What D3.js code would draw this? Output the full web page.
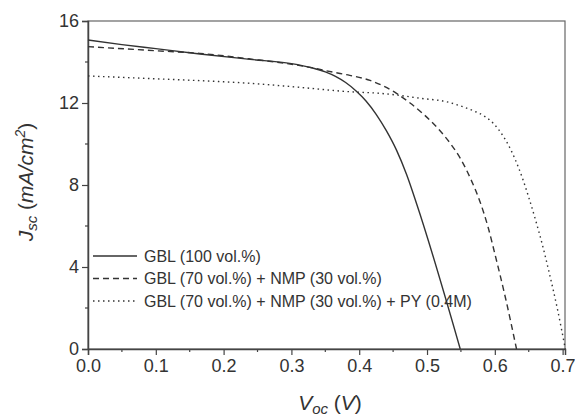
<!DOCTYPE html>
<html>
<head>
<meta charset="utf-8">
<script src="https://cdnjs.cloudflare.com/ajax/libs/d3/7.8.5/d3.min.js"></script>
<style>
  body { margin: 0; background: #fff; }
  svg { display: block; font-family: Arial, "Liberation Sans", sans-serif; }
</style>
</head>
<body>
<div id="chart"></div>
<script>
// J-V curves, values
let solidV = [0, 0.05, 0.1, 0.165, 0.239, 0.3, 0.33, 0.35, 0.365, 0.38, 0.395, 0.41, 0.425, 0.44, 0.455, 0.47, 0.485, 0.549]
let solidJ = [15.07, 14.85, 14.65, 14.39, 14.13, 13.92, 13.72, 13.52, 13.3, 13.0, 12.6, 12.1, 11.45, 10.65, 9.7, 8.5, 7.05, 0]

let dashV = [0, 0.1, 0.165, 0.239, 0.327, 0.362, 0.386, 0.416, 0.435, 0.455, 0.475, 0.495, 0.515, 0.535, 0.55, 0.565, 0.578, 0.59, 0.6, 0.616, 0.632]
let dashJ = [14.75, 14.55, 14.42, 14.15, 13.74, 13.5, 13.35, 13.1, 12.84, 12.47, 12.0, 11.45, 10.8, 10.0, 9.25, 8.25, 7.2, 5.95, 4.65, 2.45, 0]

let dotV = [0, 0.1, 0.165, 0.239, 0.3, 0.386, 0.431, 0.455, 0.49, 0.529, 0.55, 0.57, 0.585, 0.598, 0.61, 0.62, 0.63, 0.64, 0.65, 0.66, 0.67, 0.68, 0.692, 0.704]
let dotJ = [13.32, 13.18, 13.09, 12.96, 12.8, 12.55, 12.47, 12.39, 12.23, 12.06, 11.85, 11.6, 11.35, 11.0, 10.5, 9.95, 9.25, 8.4, 7.4, 6.3, 5.1, 3.75, 2.0, 0]

let legendLabels = ["GBL (100 vol.%)", "GBL (70 vol.%) + NMP (30 vol.%)", "GBL (70 vol.%) + NMP (30 vol.%) + PY (0.4M)"]
let xTicks = [0, 0.1, 0.2, 0.3, 0.4, 0.5, 0.6, 0.7]
let yTicks = [0, 4, 8, 12, 16]

let width = 575, height = 416
let margin = {top: 21, right: 10, bottom: 67, left: 88}

let svg = d3.select("#chart").append("svg")
  .attr("width", width)
  .attr("height", height)

let x = d3.scaleLinear().domain([0, 0.7035]).range([margin.left, width - margin.right])
let y = d3.scaleLinear().domain([0, 16]).range([height - margin.bottom, margin.top])

let axisColor = "#444"

// frame
svg.append("rect")
  .attr("x", x(0)).attr("y", y(16))
  .attr("width", x(0.7035) - x(0)).attr("height", y(0) - y(16))
  .attr("fill", "none").attr("stroke", "#666").attr("stroke-width", 1.2)

// minor ticks
let xMinor = d3.range(0.05, 0.7, 0.1)
svg.selectAll(".xminor").data(xMinor).enter().append("line")
  .attr("x1", d => x(d)).attr("x2", d => x(d))
  .attr("y1", y(0)).attr("y2", y(0) + 3)
  .attr("stroke", axisColor).attr("stroke-width", 1.2)
let yMinor = [2, 6, 10, 14]
svg.selectAll(".yminor").data(yMinor).enter().append("line")
  .attr("x1", x(0)).attr("x2", x(0) - 3)
  .attr("y1", d => y(d)).attr("y2", d => y(d))
  .attr("stroke", axisColor).attr("stroke-width", 1.2)

let xAxis = svg.append("g")
  .attr("transform", "translate(0," + y(0) + ")")
  .call(d3.axisBottom(x).tickValues(xTicks).tickFormat(d3.format(".1f")).tickSize(6).tickPadding(4))
let yAxis = svg.append("g")
  .attr("transform", "translate(" + x(0) + ",0)")
  .call(d3.axisLeft(y).tickValues(yTicks).tickSize(6).tickPadding(3))

;[xAxis, yAxis].forEach(g => {
  g.select(".domain").attr("stroke", axisColor).attr("stroke-width", 1.5)
  g.selectAll(".tick line").attr("stroke", axisColor).attr("stroke-width", 1.2)
  g.selectAll(".tick text").attr("fill", "#333").style("font-size", "18px")
    .style("font-family", "Arial, 'Liberation Sans', sans-serif")
})

// curves
let line = d3.line()
  .x(d => x(d[0]))
  .y(d => y(d[1]))
  .curve(d3.curveMonotoneX)

let series = [
  {v: solidV, j: solidJ, dash: null},
  {v: dashV, j: dashJ, dash: "6,4"},
  {v: dotV, j: dotJ, dash: "1.5,3.5"}
]

series.forEach(s => {
  svg.append("path")
    .datum(s.v.map((v, i) => [v, s.j[i]]))
    .attr("d", line)
    .attr("fill", "none")
    .attr("stroke", "#333")
    .attr("stroke-width", 1.4)
    .attr("stroke-dasharray", s.dash)
})

// legend
let legend = svg.append("g")
legendLabels.forEach((lab, i) => {
  let ly = 256 + i * 22.5
  legend.append("line")
    .attr("x1", 93).attr("x2", 137)
    .attr("y1", ly).attr("y2", ly)
    .attr("stroke", "#333").attr("stroke-width", 1.3)
    .attr("stroke-dasharray", series[i].dash)
  legend.append("text")
    .attr("x", 144).attr("y", ly)
    .attr("dy", "0.35em")
    .attr("fill", "#333")
    .style("font-size", "16px")
    .text(lab)
})

// axis titles
let xt = svg.append("text")
  .attr("x", 330).attr("y", 410)
  .attr("text-anchor", "middle")
  .attr("fill", "#333")
  .style("font-size", "21px")
xt.append("tspan").style("font-style", "italic").text("V")
xt.append("tspan").style("font-style", "italic").style("font-size", "15px").attr("dy", 4).text("oc")
xt.append("tspan").attr("dy", -4).text(" (")
xt.append("tspan").style("font-style", "italic").text("V")
xt.append("tspan").text(")")

let yt = svg.append("text")
  .attr("transform", "translate(33,182) rotate(-90)")
  .attr("text-anchor", "middle")
  .attr("fill", "#333")
  .style("font-size", "21px")
yt.append("tspan").style("font-style", "italic").text("J")
yt.append("tspan").style("font-style", "italic").style("font-size", "15px").attr("dy", 4).text("sc")
yt.append("tspan").attr("dy", -4).text("  (")
yt.append("tspan").style("font-style", "italic").text("mA/cm")
yt.append("tspan").style("font-style", "italic").style("font-size", "14px").attr("dy", -8).text("2")
yt.append("tspan").attr("dy", 8).text(")")
</script>
</body>
</html>
